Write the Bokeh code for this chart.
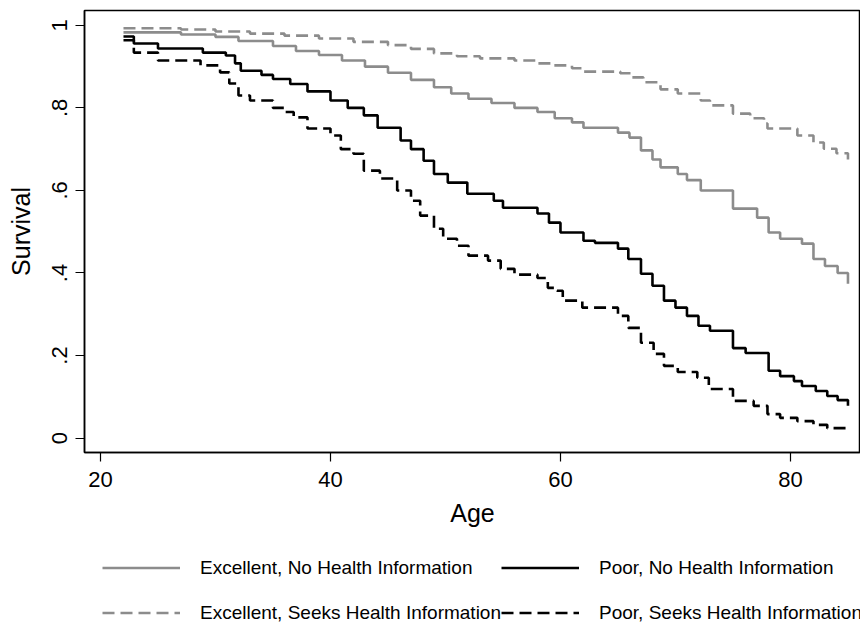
from bokeh.plotting import figure
from bokeh.models import Legend, LegendItem, FixedTicker
from bokeh.layouts import column
from bokeh.embed import file_html
from bokeh.resources import INLINE

# ---- data ----
age_exc_no = [22, 27, 30, 32, 35, 37, 39, 41, 43, 45, 47, 49, 50.5, 52, 54, 56, 58, 59.5, 61, 62,
              65, 66, 67, 68, 68.7, 70.2, 71, 72.2, 75, 77.1, 78.1, 79.1, 81, 82, 83, 84.1, 85]
surv_exc_no = [0.983, 0.978, 0.972, 0.962, 0.950, 0.938, 0.928, 0.915, 0.900, 0.885, 0.868, 0.850,
               0.835, 0.822, 0.812, 0.800, 0.790, 0.775, 0.765, 0.752, 0.740, 0.728, 0.697, 0.675,
               0.656, 0.640, 0.625, 0.600, 0.556, 0.534, 0.498, 0.483, 0.471, 0.434, 0.417, 0.400, 0.374]

age_exc_seek = [22, 27, 30, 33, 36, 39, 42, 45, 47, 49, 51, 53, 56, 58, 59.4, 61, 62, 65.2, 66.1,
                67.2, 68.7, 70.2, 72.2, 73, 75, 76.5, 77.7, 78, 80.6, 82, 82.9, 84, 85]
surv_exc_seek = [0.993, 0.990, 0.985, 0.980, 0.975, 0.968, 0.960, 0.952, 0.943, 0.932, 0.925, 0.920,
                 0.915, 0.908, 0.903, 0.896, 0.888, 0.884, 0.874, 0.862, 0.845, 0.835, 0.818, 0.806,
                 0.786, 0.775, 0.762, 0.750, 0.733, 0.716, 0.701, 0.690, 0.675]

age_poor_no = [22, 22.9, 25, 28.9, 30.9, 31.7, 32.2, 34, 35, 36.5, 38, 40, 41.5, 42.9, 44.1, 46.1, 47,
               48.1, 49, 50.2, 51.9, 54.2, 55, 58, 59, 60, 62, 63, 65, 65.9, 67, 68, 69, 70, 71, 72,
               73, 75, 76.1, 78.1, 79.1, 80.3, 81, 82.2, 83.2, 84.1, 85]
surv_poor_no = [0.973, 0.956, 0.944, 0.934, 0.927, 0.908, 0.890, 0.880, 0.870, 0.858, 0.840, 0.818,
                0.800, 0.782, 0.752, 0.721, 0.700, 0.672, 0.640, 0.619, 0.592, 0.575, 0.558, 0.544,
                0.522, 0.498, 0.478, 0.473, 0.459, 0.434, 0.398, 0.369, 0.333, 0.316, 0.296, 0.272,
                0.260, 0.218, 0.206, 0.163, 0.150, 0.138, 0.126, 0.114, 0.102, 0.092, 0.078]

age_poor_seek = [22, 22.9, 25, 28.7, 30.4, 31.2, 32, 33, 35, 36, 36.8, 38, 40, 40.9, 42, 42.9, 44.3,
                 45.8, 47, 47.8, 49, 49.8, 51, 52, 53.7, 54.8, 56, 58, 58.9, 59.7, 60.2, 61.9, 65,
                 65.9, 67, 68.1, 69, 70.2, 71.9, 72.9, 75, 76.8, 78, 79.1, 80.6, 82, 83.2, 85]
surv_poor_seek = [0.964, 0.934, 0.915, 0.903, 0.886, 0.859, 0.830, 0.818, 0.800, 0.790, 0.777, 0.750,
                  0.733, 0.700, 0.689, 0.648, 0.629, 0.600, 0.575, 0.539, 0.507, 0.483, 0.466, 0.442,
                  0.430, 0.410, 0.396, 0.388, 0.364, 0.357, 0.333, 0.316, 0.296, 0.267, 0.231, 0.204,
                  0.175, 0.160, 0.146, 0.119, 0.090, 0.078, 0.058, 0.049, 0.041, 0.032, 0.024, 0.019]

x_ticks = [20, 40, 60, 80]
y_ticks = [0, 0.2, 0.4, 0.6, 0.8, 1]
y_tick_labels = ["0", ".2", ".4", ".6", ".8", "1"]
legend_labels = ["Excellent, No Health Information", "Poor, No Health Information",
                 "Excellent, Seeks Health Information", "Poor, Seeks Health Information"]

FONT = "Liberation Sans"
GRAY = "#8c8c8c"
LW = 2.6
DASH = "12 6"

p = figure(width=860, height=540, output_backend="svg", toolbar_location=None,
           x_range=(18.61, 86.09), y_range=(-0.035, 1.036),
           min_border_left=84, min_border_right=0, min_border_top=10, min_border_bottom=88)
p.grid.visible = False
p.outline_line_color = "black"
p.outline_line_width = 1.5
p.background_fill_color = "white"
p.border_fill_color = "white"

p.step(age_exc_no, surv_exc_no, mode="after", line_color=GRAY, line_width=LW)
p.step(age_poor_no, surv_poor_no, mode="after", line_color="black", line_width=LW)
p.step(age_exc_seek, surv_exc_seek, mode="after", line_color=GRAY, line_width=LW, line_dash=DASH)
p.step(age_poor_seek, surv_poor_seek, mode="after", line_color="black", line_width=LW, line_dash=DASH)

# axes
xa = p.xaxis[0]
xa.ticker = FixedTicker(ticks=x_ticks)
xa.axis_label = "Age"
ya = p.yaxis[0]
ya.ticker = FixedTicker(ticks=y_ticks)
ya.major_label_overrides = {t: l for t, l in zip(y_ticks, y_tick_labels)}
ya.axis_label = "Survival"
ya.major_label_orientation = "vertical"

for ax in (xa, ya):
    ax.axis_line_width = 1.5
    ax.axis_line_color = "black"
    ax.major_tick_out = 9
    ax.major_tick_in = 0
    ax.major_tick_line_width = 1.2
    ax.minor_tick_out = 0
    ax.minor_tick_in = 0
    ax.major_label_text_font = FONT
    ax.major_label_text_font_size = "22px"
    ax.major_label_text_color = "black"
    ax.axis_label_text_font = FONT
    ax.axis_label_text_font_size = "25px"
    ax.axis_label_text_font_style = "normal"
    ax.axis_label_text_color = "black"
xa.major_label_standoff = 10
xa.axis_label_standoff = 9
ya.major_label_standoff = 8
ya.axis_label_standoff = 15

# ---- legend strip below the plot ----
nan = float("nan")
lg = figure(width=860, height=82, output_backend="svg", toolbar_location=None,
            x_range=(0, 1), y_range=(0, 1), min_border=0,
            min_border_left=0, min_border_right=0, min_border_top=0, min_border_bottom=0)
lg.axis.visible = False
lg.grid.visible = False
lg.outline_line_color = None
lg.background_fill_color = "white"
lg.border_fill_color = "white"

g1 = lg.line([nan], [nan], line_color=GRAY, line_width=LW)
g2 = lg.line([nan], [nan], line_color="black", line_width=LW)
g3 = lg.line([nan], [nan], line_color=GRAY, line_width=LW, line_dash=DASH)
g4 = lg.line([nan], [nan], line_color="black", line_width=LW, line_dash=DASH)

items = [LegendItem(label=legend_labels[0], renderers=[g1]),
         LegendItem(label=legend_labels[1], renderers=[g2]),
         LegendItem(label=legend_labels[2], renderers=[g3]),
         LegendItem(label=legend_labels[3], renderers=[g4])]
legend = Legend(items=items, location=(18, -13), orientation="horizontal", ncols=2,
                glyph_width=78, glyph_height=45, label_height=45, label_standoff=20,
                spacing=0, padding=0, margin=0,
                label_text_font=FONT, label_text_font_size="19px", label_text_color="black",
                border_line_alpha=0, background_fill_alpha=0)
lg.add_layout(legend)

layout = column(p, lg, spacing=0)
open("out.html", "w").write(file_html(layout, INLINE))
